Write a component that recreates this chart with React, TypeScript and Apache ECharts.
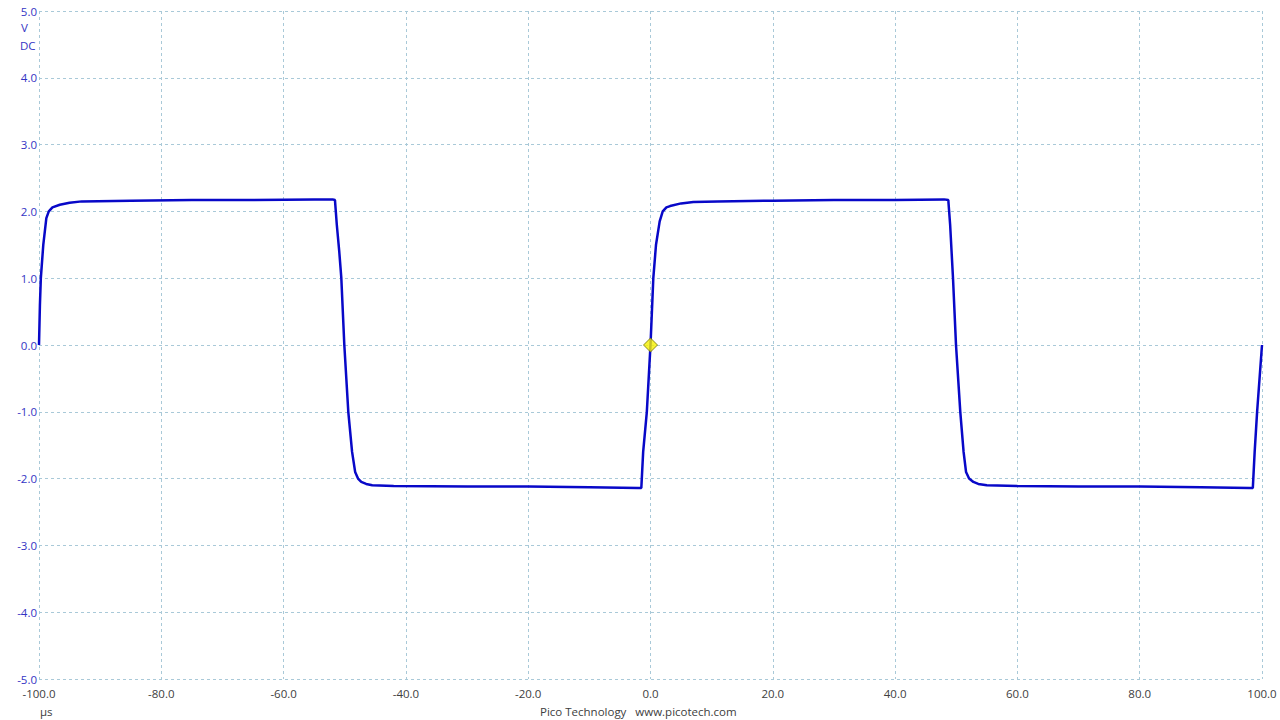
import React, { useEffect, useRef } from "react";
import * as echarts from "echarts";

// Time (µs) of each sample
const times: number[] = [
  -100, -99.85, -99.7, -99.3, -98.8, -98.4, -97.8, -96.6, -95, -93, -85, -75, -65, -55, -52, -51.6,
  -51.3, -50.9, -50.56, -50.07, -49.42, -48.8, -48.3, -47.83, -47.3, -46.5, -45.5, -42, -30, -20, -10, -2, -1.5,
  -1.2, -0.6, 0, 0.46, 0.9, 1.5, 2.0, 2.6, 3.2, 5, 7, 11, 20, 30, 40, 48, 48.7,
  49.0, 49.47, 49.96, 50.66, 51.2, 51.6, 52.1, 52.8, 53.6, 55, 60, 70, 80, 90, 98, 98.5,
  98.8, 99.2, 100,
];
// Voltage (V) of each sample
const volts: number[] = [
  0.0, 0.6, 1.0, 1.5, 1.9, 2.0, 2.06, 2.1, 2.13, 2.15, 2.16, 2.17, 2.17, 2.18, 2.18, 2.17,
  1.8, 1.4, 1.0, 0.0, -1.0, -1.6, -1.9, -2.0, -2.05, -2.08, -2.1, -2.11, -2.12, -2.12, -2.13, -2.14, -2.14,
  -1.6, -1.0, 0.0, 1.0, 1.5, 1.85, 2.0, 2.06, 2.08, 2.12, 2.14, 2.15, 2.16, 2.17, 2.17, 2.18, 2.17,
  1.8, 1.0, 0.0, -1.0, -1.6, -1.9, -2.0, -2.05, -2.08, -2.1, -2.11, -2.12, -2.12, -2.13, -2.14, -2.14,
  -1.6, -1.0, 0.0,
];
// Trigger marker
const triggerPoint: [number, number] = [0, 0];

const xMin = -100;
const xMax = 100;
const xStep = 20;
const yMin = -5;
const yMax = 5;
const yStep = 1;

export default function App() {
  const ref = useRef<HTMLDivElement>(null);
  useEffect(() => {
    if (!ref.current) return;
    const chart = echarts.init(ref.current, null, { renderer: "svg" });
    const data = times.map((t, i) => [t, volts[i]]);
    const font = "'Open Sans', 'Noto Sans', sans-serif";
    chart.setOption({
      animation: false,
      backgroundColor: "#ffffff",
      grid: { left: 39, right: 18, top: 11, bottom: 41, containLabel: false },
      xAxis: {
        type: "value",
        min: xMin,
        max: xMax,
        interval: xStep,
        axisLine: { show: false },
        axisTick: { show: false },
        axisLabel: {
          color: "#404040",
          fontSize: 11.5,
          fontFamily: font,
          margin: 8,
          formatter: (v: number) => (Math.abs(v) < 1e-9 ? "0.0" : v.toFixed(1)),
        },
        splitLine: { show: true, lineStyle: { color: "#a9c9d8", type: [3, 3], width: 1 } },
      },
      yAxis: {
        type: "value",
        min: yMin,
        max: yMax,
        interval: yStep,
        axisLine: { show: false },
        axisTick: { show: false },
        axisLabel: {
          color: "#3434c4",
          fontSize: 11.5,
          fontFamily: font,
          margin: 2,
          formatter: (v: number) => (Math.abs(v) < 1e-9 ? "0.0" : v.toFixed(1)),
        },
        splitLine: { show: true, lineStyle: { color: "#a9c9d8", type: [3, 3], width: 1 } },
      },
      series: [
        {
          type: "line",
          data,
          showSymbol: false,
          smooth: false,
          lineStyle: { color: "#0808c8", width: 2.5 },
          z: 3,
        },
        {
          type: "scatter",
          data: [triggerPoint],
          symbol: "diamond",
          symbolSize: [14, 14],
          itemStyle: { color: "#f5f000", borderColor: "#707000", borderWidth: 1 },
          z: 5,
        },
      ],
      graphic: [
        { type: "text", left: 21, top: 21, style: { text: "V", fill: "#3434c4", font: `11.5px ${font}` } },
        { type: "text", left: 20, top: 39, style: { text: "DC", fill: "#3434c4", font: `11.5px ${font}` } },
        { type: "text", left: 40, top: 705, style: { text: "µs", fill: "#404040", font: `11.5px ${font}` } },
        {
          type: "text",
          left: 540,
          top: 705,
          style: { text: "Pico Technology   www.picotech.com", fill: "#404040", font: `11.5px ${font}` },
        },
      ],
    });
    return () => chart.dispose();
  }, []);
  return (
    <div
      ref={ref}
      style={{ position: "fixed", left: 0, top: 0, width: 1280, height: 720, background: "#fff" }}
    />
  );
}
